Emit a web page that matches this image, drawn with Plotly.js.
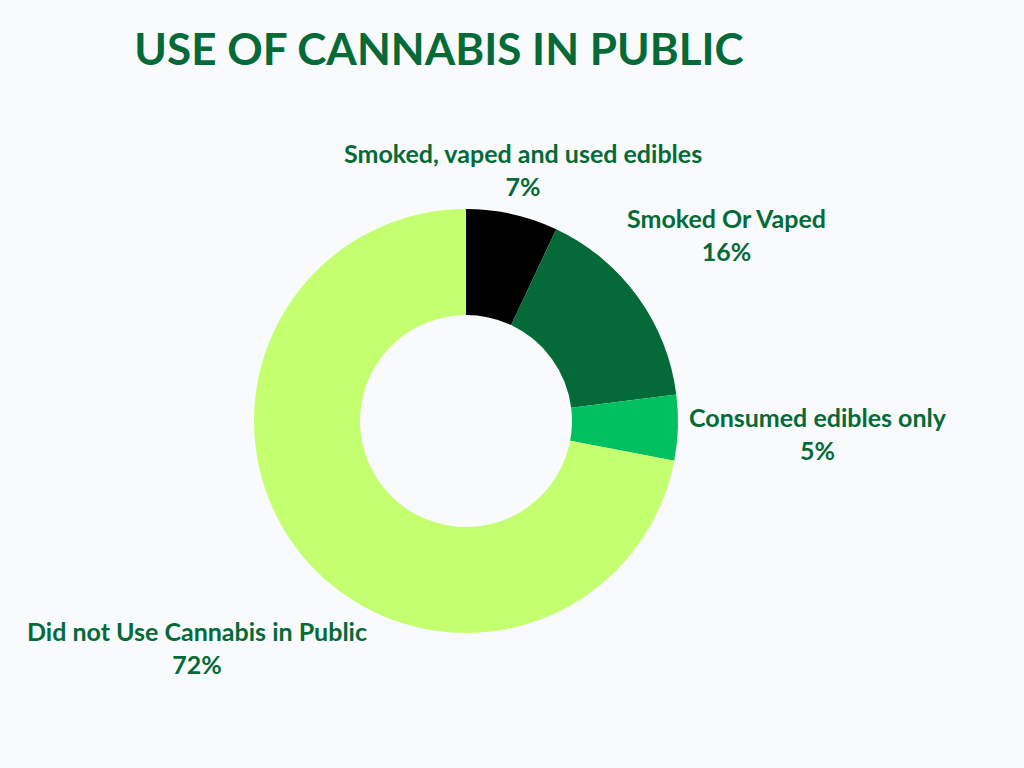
<!DOCTYPE html>
<html>
<head>
<meta charset="utf-8">
<script src="https://cdn.plot.ly/plotly-3.0.1.min.js"></script>
<style>html,body{margin:0;padding:0;background:#f8fafc;}</style>
</head>
<body>
<div id="chart" style="width:1024px;height:768px;"></div>
<script>
const categories = ["Smoked, vaped and used edibles", "Smoked Or Vaped", "Consumed edibles only", "Did not Use Cannabis in Public"];
const values = [7, 16, 5, 72];
const sliceColors = ["#000000", "#046a38", "#00c060", "#c4ff70"];
const labelPos = [[523, 170], [726, 234], [818, 433], [197, 647]];

const textColor = "#046a38";
const fontFam = "Lato, 'Open Sans', sans-serif";

const annotations = categories.map((c, i) => ({
  text: "<b>" + c + "</b><br><b>" + values[i] + "%</b>",
  x: labelPos[i][0] / 1024,
  y: 1 - labelPos[i][1] / 768,
  xref: "paper", yref: "paper",
  xanchor: "center", yanchor: "middle",
  showarrow: false,
  align: "center",
  font: {family: fontFam, size: 25, color: textColor}
}));

const data = [{
  type: "pie",
  labels: categories,
  values: values,
  hole: 0.5,
  sort: false,
  direction: "clockwise",
  rotation: 0,
  marker: {colors: sliceColors, line: {width: 0}},
  textinfo: "none",
  hoverinfo: "label+percent",
  showlegend: false,
  domain: {x: [(466 - 212) / 1024, (466 + 212) / 1024], y: [(347 - 212) / 768, (347 + 212) / 768]}
}];

const layout = {
  width: 1024, height: 768,
  margin: {l: 0, r: 0, t: 0, b: 0},
  paper_bgcolor: "#f8fafc",
  plot_bgcolor: "#f8fafc",
  title: {
    text: "<b>USE OF CANNABIS IN PUBLIC</b>",
    x: 439 / 1024, xanchor: "center",
    y: 1 - 50 / 768, yanchor: "middle",
    font: {family: fontFam, size: 44, color: textColor}
  },
  annotations: annotations
};

Plotly.newPlot("chart", data, layout, {displayModeBar: false});
</script>
</body>
</html>
